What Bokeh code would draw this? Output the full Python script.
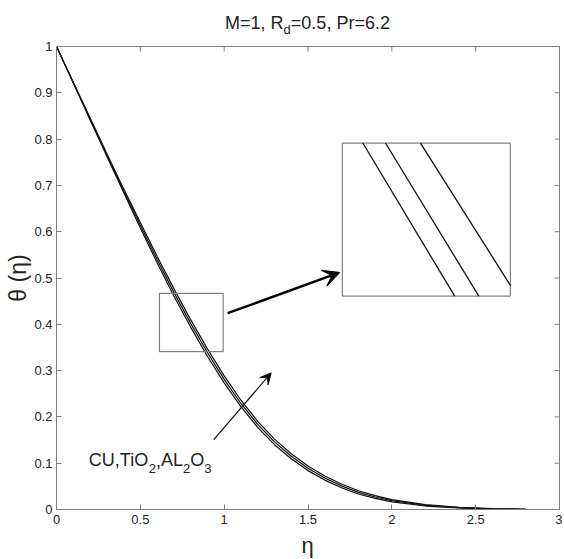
from bokeh.plotting import figure
from bokeh.models import Range1d, FixedTicker, Arrow, VeeHead, Label, Div
from bokeh.layouts import column
from bokeh.embed import file_html
from bokeh.resources import INLINE

# ---- data ----
eta = [0.0, 0.1, 0.2, 0.3, 0.4, 0.5, 0.6, 0.7, 0.8, 0.9, 1.0, 1.1, 1.2, 1.3, 1.4,
       1.5, 1.6, 1.7, 1.8, 1.9, 2.0, 2.2, 2.4, 2.6, 2.8, 3.0]
theta_cu = [1.000, 0.921, 0.842, 0.763, 0.685, 0.608, 0.533, 0.461, 0.394, 0.331,
            0.2735, 0.222, 0.1775, 0.140, 0.1095, 0.084, 0.0635, 0.047, 0.0335, 0.024,
            0.0165, 0.0075, 0.0032, 0.0012, 0.0003, 0.0]
theta_tio2 = [1.000, 0.922, 0.844, 0.766, 0.689, 0.614, 0.540, 0.469, 0.402, 0.339,
              0.281, 0.229, 0.184, 0.146, 0.115, 0.089, 0.068, 0.051, 0.037, 0.027,
              0.019, 0.009, 0.004, 0.0015, 0.0004, 0.0]
theta_al2o3 = [1.000, 0.923, 0.846, 0.769, 0.693, 0.620, 0.547, 0.477, 0.410, 0.347,
               0.2885, 0.236, 0.1905, 0.152, 0.1205, 0.094, 0.0725, 0.055, 0.0405, 0.030,
               0.0215, 0.0105, 0.0048, 0.0018, 0.0005, 0.0]

x_ticks = [0, 0.5, 1, 1.5, 2, 2.5, 3]
x_tick_labels = ["0", "0.5", "1", "1.5", "2", "2.5", "3"]
y_ticks = [0, 0.1, 0.2, 0.3, 0.4, 0.5, 0.6, 0.7, 0.8, 0.9, 1]
y_tick_labels = ["0", "0.1", "0.2", "0.3", "0.4", "0.5", "0.6", "0.7", "0.8", "0.9", "1"]

# zoom window and magnified inset (as drawn in the picture)
zoom_left, zoom_right, zoom_bottom, zoom_top = [0.614], [0.994], [0.341], [0.467]
inset_left, inset_right, inset_bottom, inset_top = [1.705], [2.707], [0.4607], [0.7915]
inset_x0 = [1.827, 1.962, 2.171]
inset_y0 = [0.7915, 0.7915, 0.7915]
inset_x1 = [2.375, 2.519, 2.708]
inset_y1 = [0.4607, 0.4607, 0.4835]

FONT = "Liberation Sans"
GRAY = "#808080"
TXT = "#222222"
W = 562

title_html = (
    f'<div style="width:{W}px;box-sizing:border-box;padding-left:53px;padding-top:13px;'
    'text-align:center;font-family:\'Liberation Sans\';font-size:18px;line-height:20px;'
    'color:#222222;">M=1, R<span style="font-size:13px;vertical-align:-5px;line-height:0;">d</span>'
    '=0.5, Pr=6.2</div>'
)
title = Div(text=title_html, width=W, height=38, margin=0)

eta_html = (
    f'<div style="position:relative;top:2px;width:{W}px;box-sizing:border-box;padding-left:53px;'
    'text-align:center;font-family:\'Liberation Sans\';font-size:22px;line-height:25px;'
    'color:#222222;">η</div>'
)
xlabel = Div(text=eta_html, width=W, height=25, margin=0)

p = figure(width=W, height=493, x_range=Range1d(0, 3), y_range=Range1d(0, 1),
           output_backend="svg", toolbar_location=None, margin=0,
           min_border_left=56, min_border_right=3, min_border_top=8, min_border_bottom=22)
p.grid.visible = False
p.outline_line_color = GRAY
p.background_fill_color = "white"
p.border_fill_color = "white"

for ax, ticks, labels in ((p.xaxis[0], x_ticks, x_tick_labels), (p.yaxis[0], y_ticks, y_tick_labels)):
    ax.ticker = FixedTicker(ticks=ticks)
    ax.major_label_overrides = {t: l for t, l in zip(ticks, labels)}
    ax.major_tick_in = 5
    ax.major_tick_out = 0
    ax.minor_tick_line_color = None
    ax.axis_line_color = GRAY
    ax.major_tick_line_color = GRAY
    ax.major_label_text_font = FONT
    ax.major_label_text_font_size = "13px"
    ax.major_label_text_color = TXT
p.xaxis[0].major_label_standoff = 5
p.yaxis[0].major_label_standoff = 4
yax = p.yaxis[0]
yax.axis_label = "θ (η)"
yax.axis_label_text_font = FONT
yax.axis_label_text_font_style = "normal"
yax.axis_label_text_font_size = "23px"
yax.axis_label_text_color = TXT
yax.axis_label_standoff = 0

# inward ticks on the top and right edges of the box
p.segment(x0=x_ticks, y0=[1] * len(x_ticks), x1=x_ticks, y1=[0.9892] * len(x_ticks),
          line_color=GRAY, line_width=1)
p.segment(x0=[3] * len(y_ticks), y0=y_ticks, x1=[2.97] * len(y_ticks), y1=y_ticks,
          line_color=GRAY, line_width=1)

# curves
for ys in (theta_cu, theta_tio2, theta_al2o3):
    p.line(eta, ys, line_color="#111111", line_width=1.2)

# zoom window and inset
p.quad(left=zoom_left, right=zoom_right, bottom=zoom_bottom, top=zoom_top,
       fill_alpha=0, line_color=GRAY, line_width=1.2)
p.quad(left=inset_left, right=inset_right, bottom=inset_bottom, top=inset_top,
       fill_color="white", line_color=GRAY, line_width=1.2)
p.segment(x0=inset_x0, y0=inset_y0, x1=inset_x1, y1=inset_y1,
          line_color="#111111", line_width=1.3)

# arrows
p.add_layout(Arrow(end=VeeHead(size=17, fill_color="black", line_color="black"),
                   x_start=1.021, y_start=0.424, x_end=1.69, y_end=0.512,
                   line_color="black", line_width=2.4))
p.add_layout(Arrow(end=VeeHead(size=11, fill_color="black", line_color="black"),
                   x_start=0.938, y_start=0.151, x_end=1.28, y_end=0.295,
                   line_color="#111111", line_width=1.2))

def txt(x, y, s, size, dx=0):
    p.add_layout(Label(x=x, y=y, text=s, x_offset=dx, text_font=FONT,
                       text_font_size=f"{size}px", text_color=TXT,
                       text_align="left", text_baseline="alphabetic"))

# material label  CU,TiO2,AL2O3
lx, ly = 0.193, 0.106
sub = ly - 0.0173
txt(lx, ly, "CU,TiO", 18, dx=0)
txt(lx, sub, "2", 13, dx=60.0)
txt(lx, ly, ",", 18, dx=67.2)
txt(lx, ly, "AL", 18, dx=72.2)
txt(lx, sub, "2", 13, dx=94.2)
txt(lx, ly, "O", 18, dx=101.4)
txt(lx, sub, "3", 13, dx=115.4)

layout = column(title, p, xlabel, spacing=0)
open("out.html", "w").write(file_html(layout, INLINE))
